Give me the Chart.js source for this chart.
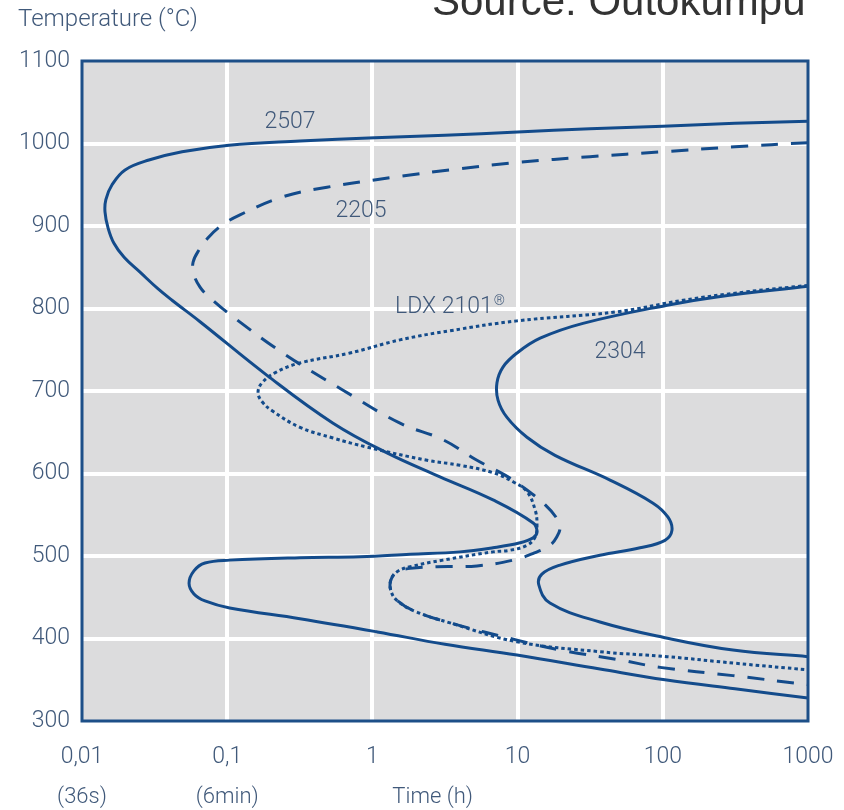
<!DOCTYPE html>
<html lang="en">
<head>
<meta charset="UTF-8">
<title>Duplex TTT curves</title>
<script src="https://cdn.jsdelivr.net/npm/chart.js"></script>
<style>
  body { margin: 0; background: #fff; }
  #wrap { position: relative; width: 844px; height: 810px; overflow: hidden; }
  canvas { display: block; }
</style>
</head>
<body>
<div id="wrap">
  <canvas id="ttt" width="844" height="810"></canvas>
</div>
<script>
// Time in hours (log axis), temperature in °C, traced along each C-curve
const time2507 = [1000, 314, 100, 31.5, 10, 3.16, 1.04, 0.317, 0.103, 0.0489, 0.0289, 0.0198, 0.0161, 0.0146, 0.0144, 0.0151, 0.0166, 0.0195, 0.0251, 0.0333, 0.0417, 0.065, 0.188, 0.536, 1.26, 2.92, 6.77, 12.8, 13.6, 12.8, 10.4, 6.77, 4.01, 1.82, 0.822, 0.317, 0.104, 0.0703, 0.059, 0.0546, 0.059, 0.0703, 0.104, 0.317, 1.08, 3.16, 9.9, 36.9, 103.5, 314, 1000];
const temp2507 = [1027, 1024.5, 1021, 1018, 1014, 1010, 1007, 1003, 998, 990, 980, 968, 950, 932, 917, 898, 879, 862, 844, 824, 810, 784, 719, 661, 625, 596, 568, 540, 529, 522, 516, 510, 505, 502, 499, 498, 495, 491.5, 482, 467, 454, 445.5, 437, 424, 408, 393, 380, 363, 350, 339, 328];

const time2205 = [1000, 314, 100, 31.5, 10, 4.0, 1.39, 0.487, 0.238, 0.1205, 0.092, 0.075, 0.064, 0.0582, 0.059, 0.065, 0.075, 0.1096, 0.242, 0.628, 1.55, 3.06, 5.25, 8.19, 11.6, 15.5, 18.4, 19.6, 18.6, 16.7, 13.2, 9.3, 5.25, 2.79, 1.82, 1.48, 1.34, 1.34, 1.48, 1.96, 3.42, 9.9, 19.6, 50.7, 95.7, 304, 1000];
const temp2205 = [1001, 996, 990, 984, 977, 969.5, 959, 947, 935, 913, 901, 887, 871, 856, 841, 826, 814, 790, 746, 701, 661, 641, 616, 598, 580, 562, 547, 535, 523, 513, 504, 495, 488, 487, 485, 481, 471, 458, 446, 433, 419, 398, 386, 374, 365, 355, 344];

const timeLdx = [1000, 368, 138, 48.4, 9.9, 3.42, 1.55, 0.70, 0.317, 0.213, 0.174, 0.163, 0.174, 0.204, 0.317, 0.536, 0.918, 2.38, 4.0, 6.77, 9.3, 11.6, 13.2, 13.6, 13.2, 11.6, 8.87, 6.77, 3.06, 1.82, 1.48, 1.34, 1.34, 1.48, 1.96, 3.42, 9.9, 36.9, 107, 314, 1000];
const tempLdx = [828, 820, 810, 796, 785, 773, 762, 746, 734, 722, 710, 698, 687, 676, 656, 643, 632, 616, 610, 601, 590, 578, 556, 538, 523, 513, 507, 505, 495, 487, 481, 471, 458, 446, 433, 419, 396, 384, 378, 370, 362];

const time2304 = [1000, 236, 107, 28.2, 14.3, 9.9, 7.93, 7.21, 7.33, 8.45, 11.6, 18.1, 43.3, 85.7, 108.6, 115.6, 103.5, 69.7, 36.9, 19.6, 14.7, 14.0, 16.7, 36.9, 103.5, 304, 1000];
const temp2304 = [827, 814, 804, 782, 764, 746, 729, 710, 689, 668, 644, 622, 592, 564, 547, 531, 519, 510, 501, 489, 478, 465, 443, 420, 401, 386, 378];

const gradeNames = ['2507', '2205', 'LDX 2101®', '2304'];
const xTickValues = [0.01, 0.1, 1, 10, 100, 1000];
const xTickLabels = ['0,01', '0,1', '1', '10', '100', '1000'];
const xTickNotes = ['(36s)', '(6min)', '', '', '', ''];

const lineBlue = '#134b8b';
const textBlue = '#40597a';

function toPoints(xs, ys) {
  return xs.map((x, i) => ({ x: x, y: ys[i] }));
}

// where each grade name sits, in data units
const nameAnchors = [
  { x: 0.271, y: 1026 },
  { x: 0.834, y: 918 },
  { x: 3.42, y: 801 },
  { x: 50.7, y: 747 }
];

const decorPlugin = {
  id: 'decor',
  beforeDraw(chart) {
    const a = chart.chartArea;
    const c = chart.ctx;
    c.save();
    c.fillStyle = '#dcdcdd';
    c.fillRect(a.left, a.top, a.right - a.left, a.bottom - a.top);
    c.restore();
  },
  afterDraw(chart) {
    const a = chart.chartArea;
    const c = chart.ctx;
    const xs = chart.scales.x;
    c.save();
    c.strokeStyle = '#1d4f88';
    c.lineWidth = 3;
    c.strokeRect(a.left, a.top, a.right - a.left, a.bottom - a.top);

    // grade names
    c.fillStyle = textBlue;
    c.font = '300 23px Roboto';
    c.textAlign = 'center';
    c.textBaseline = 'middle';
    gradeNames.forEach((name, i) => {
      const px = xs.getPixelForValue(nameAnchors[i].x);
      const py = chart.scales.y.getPixelForValue(nameAnchors[i].y);
      if (name.endsWith('®')) {
        const base = name.slice(0, -1);
        const w = c.measureText(base).width;
        c.textAlign = 'left';
        c.fillText(base, px - w / 2 - 6, py);
        c.font = '300 14px Roboto';
        c.fillText('®', px + w / 2 - 5, py - 6);
        c.font = '300 23px Roboto';
        c.textAlign = 'center';
      } else {
        c.fillText(name, px, py);
      }
    });

    // second row under the x ticks
    c.font = '300 22px Roboto';
    xTickValues.forEach((v, i) => {
      if (xTickNotes[i]) c.fillText(xTickNotes[i], xs.getPixelForValue(v), 797);
    });
    c.fillText('Time (h)', xs.getPixelForValue(2.6), 797);

    // axis caption and source
    c.textAlign = 'left';
    c.font = '300 24px Roboto';
    c.fillText('Temperature (°C)', 18, 20);
    c.fillStyle = '#333333';
    c.font = '42px "Liberation Sans", Arial, sans-serif';
    c.textBaseline = 'alphabetic';
    c.fillText('Source: Outokumpu', 432, 15);
    c.restore();
  }
};

const curveStyle = {
  borderColor: lineBlue,
  borderWidth: 3,
  pointRadius: 0,
  showLine: true,
  fill: false,
  tension: 0.4
};

new Chart(document.getElementById('ttt'), {
  type: 'scatter',
  data: {
    datasets: [
      Object.assign({ label: gradeNames[0], data: toPoints(time2507, temp2507) }, curveStyle),
      Object.assign({ label: gradeNames[1], data: toPoints(time2205, temp2205), borderDash: [17, 13] }, curveStyle),
      Object.assign({ label: gradeNames[2], data: toPoints(timeLdx, tempLdx), borderDash: [3.5, 3] }, curveStyle),
      Object.assign({ label: gradeNames[3], data: toPoints(time2304, temp2304) }, curveStyle)
    ]
  },
  options: {
    responsive: false,
    animation: false,
    layout: { padding: { top: 61, right: 36, left: 0, bottom: 0 } },
    plugins: {
      legend: { display: false },
      tooltip: { enabled: false }
    },
    scales: {
      x: {
        type: 'logarithmic',
        min: 0.01,
        max: 1000,
        afterBuildTicks: (scale) => { scale.ticks = xTickValues.map(v => ({ value: v })); },
        afterFit: (scale) => {
          scale.height = 89;
          scale.paddingLeft = 0;
          scale.paddingRight = 0;
        },
        border: { display: false },
        grid: {
          drawTicks: false,
          lineWidth: 4,
          color: (ctx) => (ctx.index === 0 || ctx.index === xTickValues.length - 1) ? 'rgba(0,0,0,0)' : '#ffffff'
        },
        ticks: {
          autoSkip: false,
          maxRotation: 0,
          padding: 22,
          color: textBlue,
          font: { family: 'Roboto', size: 23, weight: '300' },
          callback: (value) => {
            const i = xTickValues.indexOf(value);
            return i >= 0 ? xTickLabels[i] : '';
          }
        }
      },
      y: {
        min: 300,
        max: 1100,
        afterFit: (scale) => {
          scale.width = 82;
          scale.paddingTop = 0;
          scale.paddingBottom = 0;
        },
        border: { display: false },
        grid: {
          drawTicks: false,
          lineWidth: 4,
          color: (ctx) => (ctx.tick.value === 300 || ctx.tick.value === 1100) ? 'rgba(0,0,0,0)' : '#ffffff'
        },
        ticks: {
          stepSize: 100,
          padding: 12,
          color: textBlue,
          font: { family: 'Roboto', size: 23, weight: '300' },
          callback: (value) => String(value)
        }
      }
    }
  },
  plugins: [decorPlugin]
});
</script>
</body>
</html>
